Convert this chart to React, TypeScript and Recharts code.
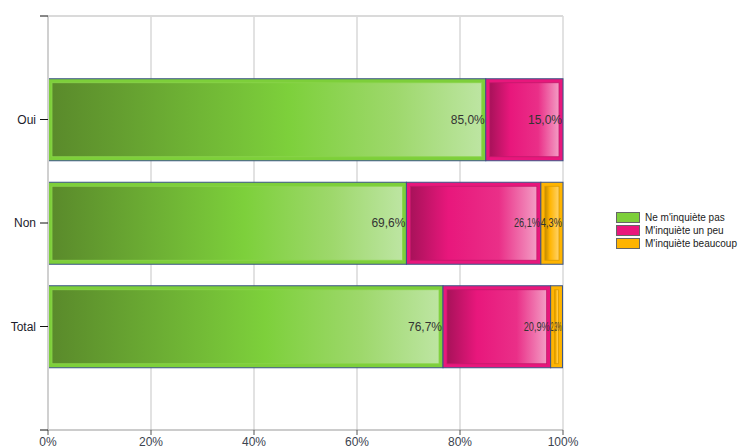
import React from "react";
import {
  Bar,
  BarChart,
  CartesianGrid,
  LabelList,
  Legend,
  ReferenceLine,
  XAxis,
  YAxis,
} from "recharts";

const categories = ["Oui", "Non", "Total"];
const pasValues = [85.0, 69.6, 76.7];
const peuValues = [15.0, 26.1, 20.9];
const beaucoupValues = [0, 4.3, 2.3];
const seriesNames = ["Ne m'inquiète pas", "M'inquiète un peu", "M'inquiète beaucoup"];
const xTicks = [0, 20, 40, 60, 80, 100];

const data = categories.map((name, i) => ({
  name,
  pos: i + 1,
  pas: pasValues[i],
  peu: peuValues[i],
  beaucoup: beaucoupValues[i],
}));

const FONT = "'Liberation Sans', Arial, sans-serif";
const swatches = ["#7dcf3a", "#e8177c", "#ffb400"];

const fmt = (v: number) => v.toFixed(1).replace(".", ",") + "%";

// rough Arial 12px width of a label like "85,0%"
const textWidth = (s: string) =>
  s.split("").reduce((w, c) => w + (c === "," ? 3.3 : c === "%" ? 10.7 : 6.7), 0);

function Segment(props: any) {
  const { x, y, width, height, base, grad, edge } = props;
  if (!width || width <= 0) return null;
  const inset = 4;
  return (
    <g>
      <rect x={x} y={y} width={width} height={height} fill={base} stroke="#3b5487" strokeWidth={1} />
      {width > inset * 2 && (
        <rect
          x={x + inset}
          y={y + inset}
          width={width - inset * 2}
          height={height - inset * 2}
          fill={`url(#${grad})`}
          stroke={edge}
          strokeWidth={0.8}
        />
      )}
    </g>
  );
}

const makeLabel = (series: number) => (props: any) => {
  const { x, y, width, height, value, index } = props;
  if (!value || !width) return null;
  const s = fmt(Number(value));
  const natural = textWidth(s);
  let len: number | undefined;
  if (natural > width - 2) len = Math.max(width - 1, 6);
  else if (series === 1 && beaucoupValues[index] > 0) len = natural * 0.76;
  return (
    <text
      x={x + width - 1}
      y={y + height / 2}
      textAnchor="end"
      dominantBaseline="central"
      fontSize={12}
      fontFamily={FONT}
      fill="#333"
      textLength={len}
      lengthAdjust={len ? "spacingAndGlyphs" : undefined}
    >
      {s}
    </text>
  );
};

function LegendBox() {
  return (
    <div style={{ fontFamily: FONT, fontSize: 10, color: "#222" }}>
      {seriesNames.map((n, i) => (
        <div key={n} style={{ display: "flex", alignItems: "center", height: 13 }}>
          <span
            style={{
              display: "inline-block",
              width: 22,
              height: 9,
              background: swatches[i],
              border: "1px solid #666",
              marginRight: 5,
            }}
          />
          {n}
        </div>
      ))}
    </div>
  );
}

export default function App() {
  return (
    <div style={{ position: "absolute", left: 0, top: 0, background: "#fff" }}>
      <BarChart
        width={749}
        height={446}
        data={data}
        layout="vertical"
        margin={{ top: 16, right: 186, left: 0, bottom: 0 }}
      >
        <defs>
          <linearGradient id="gGreen" x1="0" y1="0" x2="1" y2="0">
            <stop offset="0%" stopColor="#5a8a2b" />
            <stop offset="55%" stopColor="#7dd03b" />
            <stop offset="80%" stopColor="#9ed86c" />
            <stop offset="100%" stopColor="#bde5a2" />
          </linearGradient>
          <linearGradient id="gPink" x1="0" y1="0" x2="1" y2="0">
            <stop offset="0%" stopColor="#a8125a" />
            <stop offset="30%" stopColor="#e8177c" />
            <stop offset="70%" stopColor="#ea2f88" />
            <stop offset="100%" stopColor="#f39cc4" />
          </linearGradient>
          <linearGradient id="gOrange" x1="0" y1="0" x2="1" y2="0">
            <stop offset="0%" stopColor="#c08a00" />
            <stop offset="35%" stopColor="#ffb400" />
            <stop offset="100%" stopColor="#ffd36a" />
          </linearGradient>
        </defs>
        <CartesianGrid horizontal={false} stroke="#e2e2e2" strokeWidth={2} />
        <ReferenceLine y={0} stroke="#dadada" strokeWidth={2} />
        <XAxis
          type="number"
          domain={[0, 100]}
          ticks={xTicks}
          tickFormatter={(v: number) => `${v}%`}
          height={16}
          tickSize={5}
          tickMargin={2}
          axisLine={{ stroke: "#999" }}
          tickLine={{ stroke: "#555" }}
          tick={{ fill: "#3c4450", fontSize: 12, fontFamily: FONT }}
          interval={0}
        />
        <YAxis
          type="number"
          dataKey="pos"
          domain={[0, 4]}
          ticks={[0, 1, 2, 3, 4]}
          width={48}
          tickSize={8}
          tickMargin={4}
          axisLine={{ stroke: "#d0d0d0", strokeWidth: 2 }}
          tickLine={{ stroke: "#111" }}
          tickFormatter={(v: number) => categories[v - 1] ?? ""}
          tick={{ fill: "#1c1c2c", fontSize: 12, fontFamily: FONT }}
          interval={0}
        />
        <Legend
          layout="horizontal"
          verticalAlign="middle"
          align="center"
          content={() => <LegendBox />}
          wrapperStyle={{ left: 616, top: 211, width: 133, height: 40 }}
        />
        <Bar
          dataKey="pas"
          name={seriesNames[0]}
          stackId="a"
          barSize={82}
          isAnimationActive={false}
          shape={(p: any) => <Segment {...p} base="#7dcf3a" grad="gGreen" edge="#8ad44c" />}
        >
          <LabelList dataKey="pas" content={makeLabel(0)} />
        </Bar>
        <Bar
          dataKey="peu"
          name={seriesNames[1]}
          stackId="a"
          barSize={82}
          isAnimationActive={false}
          shape={(p: any) => <Segment {...p} base="#e8177c" grad="gPink" edge="#c21a6c" />}
        >
          <LabelList dataKey="peu" content={makeLabel(1)} />
        </Bar>
        <Bar
          dataKey="beaucoup"
          name={seriesNames[2]}
          stackId="a"
          barSize={82}
          isAnimationActive={false}
          shape={(p: any) => <Segment {...p} base="#ffb400" grad="gOrange" edge="#d99a00" />}
        >
          <LabelList dataKey="beaucoup" content={makeLabel(2)} />
        </Bar>
      </BarChart>
    </div>
  );
}
